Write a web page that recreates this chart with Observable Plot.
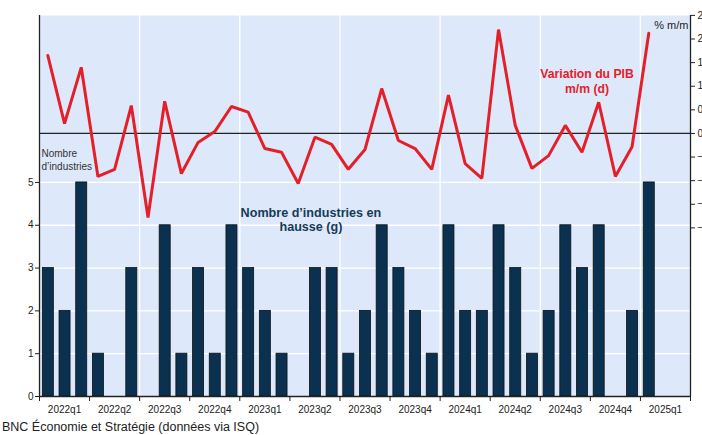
<!DOCTYPE html>
<html>
<head>
<meta charset="utf-8">
<script src="https://cdn.jsdelivr.net/npm/d3@7"></script>
<script src="https://cdn.jsdelivr.net/npm/@observablehq/plot@0.6"></script>
<style>
  html, body { margin: 0; padding: 0; background: #fff; overflow: hidden; }
  #chart svg { display: block; overflow: visible; }
  #caption { font: 12.5px "Liberation Sans", Arial, sans-serif; color: #222; padding-left: 2px; margin-top: 2px; line-height: 14px; }
</style>
</head>
<body>
<div id="chart"></div>
<div id="caption">BNC Économie et Stratégie (données via ISQ)</div>
<script>
// Months from Jan 2022 to Jan 2025
const months = ["2022-01","2022-02","2022-03","2022-04","2022-05","2022-06","2022-07","2022-08","2022-09","2022-10","2022-11","2022-12",
  "2023-01","2023-02","2023-03","2023-04","2023-05","2023-06","2023-07","2023-08","2023-09","2023-10","2023-11","2023-12",
  "2024-01","2024-02","2024-03","2024-04","2024-05","2024-06","2024-07","2024-08","2024-09","2024-10","2024-11","2024-12",
  "2025-01"];
// Number of industries up (left axis)
const industries = [3,2,5,1,0,3,0,4,1,3,1,4, 3,2,1,0,3,3,1,2,4,3,2,1, 4,2,2,4,3,1,2,4,3,4,0,2, 5];
// GDP m/m % change (right axis)
const gdp = [1.65,0.21,1.40,-0.91,-0.76,0.59,-1.78,0.68,-0.85,-0.19,0.04,0.57,
  0.45,-0.32,-0.40,-1.06,-0.08,-0.23,-0.76,-0.34,0.95,-0.15,-0.32,-0.76,
  0.81,-0.64,-0.95,2.20,0.17,-0.74,-0.47,0.17,-0.40,0.66,-0.91,-0.28,
  2.12];
const quarterLabels = ["2022q1","2022q2","2022q3","2022q4","2023q1","2023q2","2023q3","2023q4","2024q1","2024q2","2024q3","2024q4","2025q1"];
const leftTicks = [0,1,2,3,4,5];
const rightTicks = [2.5,2.0,1.5,1.0,0.5,0.0,-0.5,-1.0,-1.5,-2.0];

// Dual-axis mapping: right value -> left scale units
const R0 = 6.145, RK = 1.103;
const toLeft = v => R0 + RK * v;
const nMonths = quarterLabels.length * 3; // 39

const data = months.map((m, i) => ({i, m, n: industries[i], g: gdp[i]}));
const qBounds = d3.range(0, nMonths + 1, 3);
const qCenters = quarterLabels.map((q, k) => k * 3 + 1.5);
const vGrid = d3.range(6, nMonths, 6);

const font = '"Liberation Sans", Arial, sans-serif';

const chart = Plot.plot({
  width: 702,
  height: 418,
  marginTop: 15,
  marginBottom: 22,
  marginLeft: 39,
  marginRight: 12,
  style: {fontFamily: font, fontSize: "10px", color: "#222", background: "transparent"},
  x: {type: "linear", domain: [0, nMonths], axis: null},
  y: {domain: [0, 8.9], axis: null},
  marks: [
    Plot.frame({fill: "#dde9fa", stroke: null}),
    Plot.gridY(leftTicks.slice(1), {stroke: "#fff", strokeOpacity: 1, strokeWidth: 1.3}),
    Plot.gridX(vGrid, {stroke: "#fff", strokeOpacity: 1, strokeWidth: 1.3}),
    Plot.ruleY([toLeft(0)], {stroke: "#222", strokeWidth: 1.2}),
    Plot.rectY(data, {x1: d => d.i + 0.2, x2: d => d.i + 0.86, y1: 0, y2: "n", fill: "#0b3150", stroke: "#111", strokeWidth: 0.8}),
    Plot.line(data, {x: d => d.i + 0.5, y: d => toLeft(d.g), stroke: "#e3202a", strokeWidth: 3, strokeLinejoin: "miter"}),
    // Axis lines
    Plot.ruleX([0, nMonths], {stroke: "#222", strokeWidth: 1.3}),
    Plot.ruleY([0], {stroke: "#222", strokeWidth: 1.3}),
    // Left axis
    Plot.axisY(leftTicks, {anchor: "left", label: null, tickSize: 4, tickPadding: 2, fontSize: 10, stroke: "#222", fill: "#222"}),
    // Right axis (GDP)
    Plot.axisY(rightTicks.map(toLeft), {anchor: "right", label: null, tickSize: 4, tickPadding: 3, fontSize: 10, stroke: "#222", fill: "#222",
      tickFormat: d => d3.format(".1f")(Math.round(((d - R0) / RK) * 2) / 2)}),
    // X axis ticks at quarter boundaries
    Plot.axisX(qBounds, {anchor: "bottom", label: null, tickSize: 5, tickFormat: () => "", stroke: "#222"}),
    Plot.axisX(qCenters, {anchor: "bottom", label: null, tickSize: 0, tickPadding: 9, fontSize: 10, fill: "#222",
      tickFormat: x => quarterLabels[Math.round((x - 1.5) / 3)]}),
    // Annotations
    Plot.text(["Nombre\nd\u2019industries"], {x: 0, y: 5.54, dx: 2, textAnchor: "start", fontSize: 10, fill: "#333", lineHeight: 1.25}),
    Plot.text(["Nombre d\u2019industries en\nhausse (g)"], {x: 16.26, y: 4.14, textAnchor: "middle", fontSize: 12.6, fontWeight: "bold", fill: "#163a58", lineHeight: 1.15}),
    Plot.text(["Variation du PIB\nm/m (d)"], {x: 32.8, y: 7.38, textAnchor: "middle", fontSize: 12.2, fontWeight: "bold", fill: "#e3202a", lineHeight: 1.2}),
    Plot.text(["% m/m"], {x: nMonths, y: 8.67, dx: -2, textAnchor: "end", fontSize: 11, fill: "#222"})
  ]
});
document.getElementById("chart").appendChild(chart);
</script>
</body>
</html>
